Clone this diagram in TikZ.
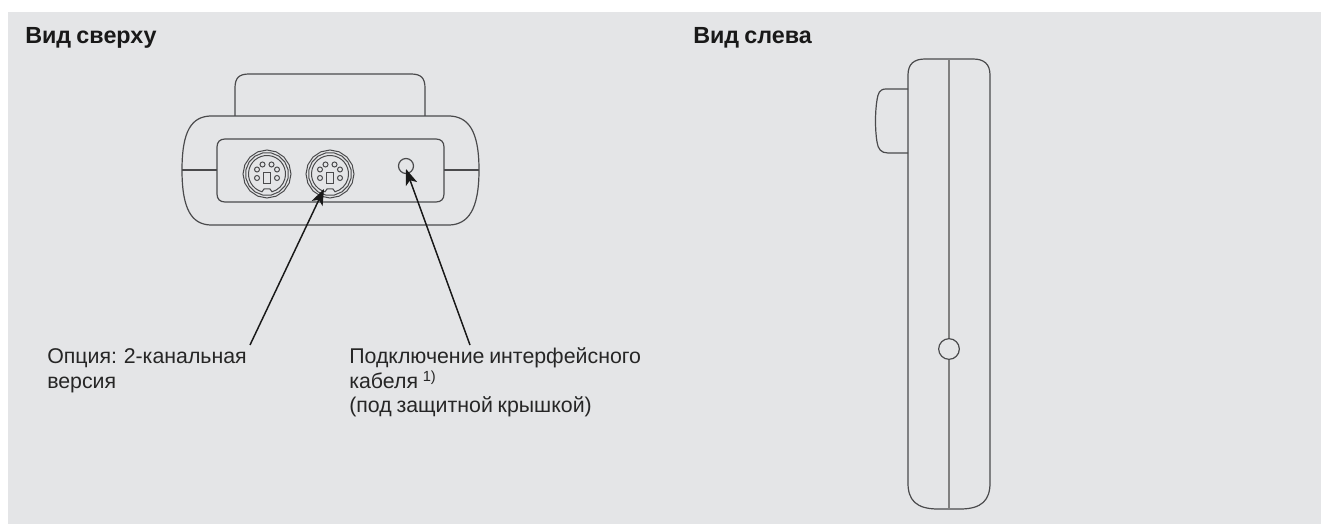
\documentclass[tikz,border=0pt]{standalone}
\usepackage{fontspec}
\setmainfont[WordSpace=0.8]{Liberation Sans}
\usetikzlibrary{arrows.meta}
\definecolor{panelgray}{HTML}{E4E5E7}
\definecolor{outline}{HTML}{4A4A4C}
\tikzset{
  title/.style={anchor=base west,inner sep=0pt,font=\fontsize{17.5pt}{20pt}\selectfont\bfseries,text=black!90},
  label/.style={anchor=base west,inner sep=0pt,font=\fontsize{16pt}{19pt}\selectfont,text=black!85},
  housing/.style={outline,line width=0.9pt},
  thinline/.style={outline,line width=0.75pt},
  seam/.style={black!50,line width=1.2pt},
  pointer/.style={black!90,line width=1.1pt,-{Stealth[length=12pt,width=9pt,inset=3pt]}},
  minidin/.pic={
    \draw[thinline] (90:24) \foreach \a in {112.5,135,...,450} {-- (\a:24)} -- cycle;
    \draw[thinline] (101:21.5) \foreach \a in {123.5,146,...,461} {-- (\a:21.5)} -- cycle;
    \draw[thinline] (-5,17.8) arc (105.7:434.3:18.5) -- (3,15) -- (-3,15) -- cycle;
    \foreach \p in {(-4.5,-9.5),(4.5,-9.5),(-10,-4.5),(10,-4.5),(-10,4),(10,4)}
      \draw[thinline] \p circle (2.5);
    \draw[thinline] (-3.5,-1.5) rectangle (3.5,10);
  }
}
\begin{document}
\begin{tikzpicture}[x=0.75pt,y=-0.75pt]
\useasboundingbox (0,0) rectangle (1321,524);
\fill[panelgray] (8,12) rectangle (1321,524);
%
\node[title] (topview) at (25,44) {Вид сверху};
\node[title] (sideview) at (693,44) {Вид слева};
%
% top view
\draw[housing] (235,116) -- (235,88) .. controls (235,78) and (239,74) .. (249,74) -- (411,74) .. controls (421,74) and (425,78) .. (425,88) -- (425,116);
\draw[housing] (210,116) -- (450,116) .. controls (468,117) and (479,130) .. (479,170)
  .. controls (479,210) and (468,224) .. (450,225) -- (210,225)
  .. controls (192,224) and (182,210) .. (182,170) .. controls (182,130) and (192,117) .. (210,116) -- cycle;
\draw[housing] (225,139) -- (436,139) .. controls (441,139) and (444,142) .. (444,147) -- (444,194)
  .. controls (444,199) and (441,202) .. (436,202) -- (225,202)
  .. controls (220,202) and (217,199) .. (217,194) -- (217,147) .. controls (217,142) and (220,139) .. (225,139) -- cycle;
\draw[housing] (182,170) -- (217,170);
\draw[housing] (444,170) -- (479,170);
\pic at (267,174) {minidin};
\pic at (330,174) {minidin};
\draw[housing] (406,166) circle (7.5);
%
\coordinate (plugtip) at (324,189);
\coordinate (plugtail) at (250,345);
\coordinate (holetip) at (406,169);
\coordinate (holetail) at (470,345);
\draw[pointer] (plugtail) -- (plugtip);
\draw[pointer] (holetail) -- (holetip);
%
\node[label] (optionA) at (47,363) {Опция: 2-канальная};
\node[label] (optionB) at (47,388) {версия};
\node[label] (cableA) at (349,363) {Подключение интерфейсного};
\node[label] (cableB) at (349,388) {кабеля \raisebox{5pt}{\fontsize{11pt}{13pt}\selectfont 1)}};
\node[label] (cableC) at (349,412) {(под защитной крышкой)};
%
% side view
\draw[housing] (908,75) .. controls (908,64) and (914,59) .. (925,59) -- (973,59) .. controls (984,59) and (990,64) .. (990,75)
  -- (990,483) .. controls (990,500) and (982,509) .. (960,509) -- (938,509) .. controls (916,509) and (908,500) .. (908,483) -- cycle;
\draw[housing] (908,89) -- (886,89) .. controls (879,89) and (878,94) .. (877,100) .. controls (875,112) and (875,130) .. (877,142)
  .. controls (878,149) and (881,153) .. (888,153) -- (908,153);
\node[draw=outline,line width=0.9pt,circle,minimum size=15.5pt,inner sep=0pt] (socket) at (949,349) {};
\draw[seam] (949,59) -- (socket.north);
\draw[seam] (socket.south) -- (949,509);
%
\end{tikzpicture}
\end{document}
